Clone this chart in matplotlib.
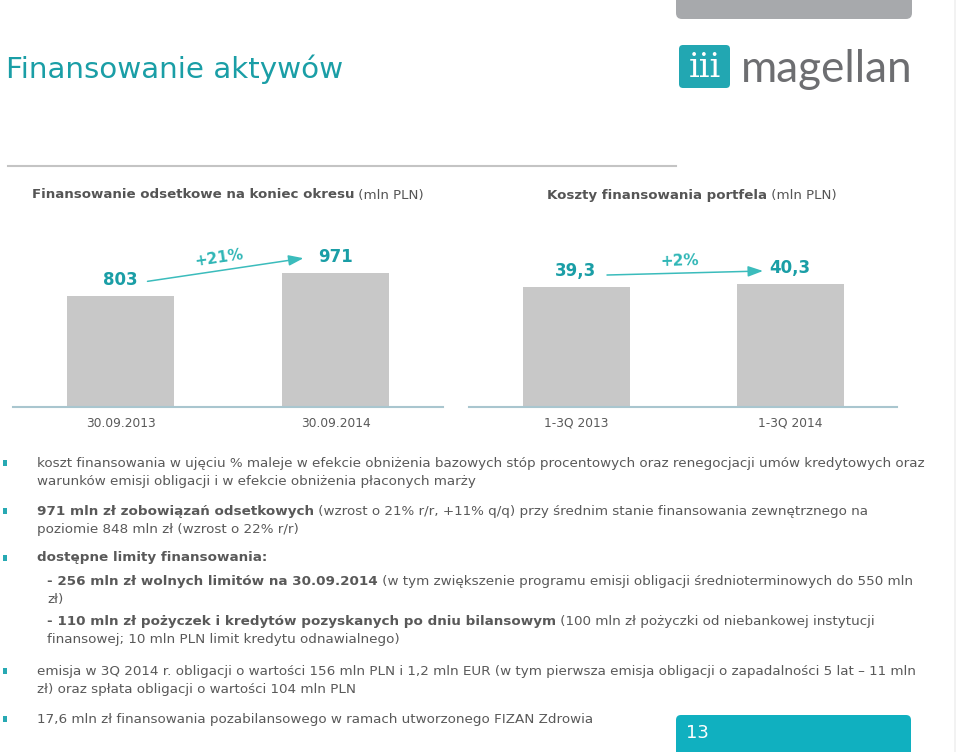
import matplotlib
matplotlib.use("Agg")
import matplotlib.pyplot as plt
from matplotlib.patches import FancyBboxPatch, Rectangle
from matplotlib.lines import Line2D
from matplotlib.transforms import IdentityTransform, offset_copy
import numpy as np

W, H = 960, 752
TEAL = "#1a9ea6"
ARROW = "#3bbcbc"
GREY_TXT = "#595959"
BAR = "#c8c8c8"
AXIS = "#a9c6cf"

# --- data -------------------------------------------------------------
title = "Finansowanie aktywów"
left_head = [("Finansowanie odsetkowe na koniec okresu", True), (" (mln PLN)", False)]
right_head = [("Koszty finansowania portfela", True), (" (mln PLN)", False)]

left_categories = ["30.09.2013", "30.09.2014"]
left_values = [803, 971]
left_labels = ["803", "971"]
left_change = "+21%"

right_categories = ["1-3Q 2013", "1-3Q 2014"]
right_values = [39.3, 40.3]
right_labels = ["39,3", "40,3"]
right_change = "+2%"

# each bullet: list of lines, each line: list of (text, bold)
bullet_1 = [
    [("koszt finansowania w ujęciu % maleje w efekcie obniżenia bazowych stóp procentowych oraz renegocjacji umów kredytowych oraz", False)],
    [("warunków emisji obligacji i w efekcie obniżenia płaconych marży", False)],
]
bullet_2 = [
    [("971 mln zł zobowiązań odsetkowych", True),
     (" (wzrost o 21% r/r, +11% q/q) przy średnim stanie finansowania zewnętrznego na", False)],
    [("poziomie 848 mln zł (wzrost o 22% r/r)", False)],
]
bullet_3 = [
    [("dostępne limity finansowania:", True)],
]
sub_1 = [
    [("- 256 mln zł wolnych limitów na 30.09.2014", True),
     (" (w tym zwiększenie programu emisji obligacji średnioterminowych do 550 mln", False)],
    [("zł)", False)],
]
sub_2 = [
    [("- 110 mln zł pożyczek i kredytów pozyskanych po dniu bilansowym", True),
     (" (100 mln zł pożyczki od niebankowej instytucji", False)],
    [("finansowej; 10 mln PLN limit kredytu odnawialnego)", False)],
]
bullet_4 = [
    [("emisja w 3Q 2014 r. obligacji o wartości 156 mln PLN i 1,2 mln EUR (w tym pierwsza emisja obligacji o zapadalności 5 lat – 11 mln", False)],
    [("zł) oraz spłata obligacji o wartości 104 mln PLN", False)],
]
bullet_5 = [
    [("17,6 mln zł finansowania pozabilansowego w ramach utworzonego FIZAN Zdrowia", False)],
]
page_number = "13"

fig = plt.figure(figsize=(W / 100, H / 100), dpi=100)
fig.patch.set_facecolor("white")
renderer = fig.canvas.get_renderer()


def fx(x):
    return x / W


def fy(y):
    return 1 - y / H


def rich_line(x, y, segments, size, color=GREY_TXT):
    # draw text pieces one after another on one line
    for text, bold in segments:
        t = fig.text(fx(x), fy(y), text, fontsize=size, color=color,
                     fontweight="bold" if bold else "normal", va="center", ha="left")
        x += t.get_window_extent(renderer).width


def px_patch(patch):
    patch.set_transform(IdentityTransform())
    fig.add_artist(patch)


# --- header -------------------------------------------------------------
px_patch(FancyBboxPatch((676, H - 19), 236, 30, boxstyle="round,pad=0,rounding_size=6",
                        fc="#a7a9ac", ec="none"))
fig.text(fx(6), fy(69), title, fontsize=21.2, color=TEAL, va="center", ha="left")

px_patch(FancyBboxPatch((679, H - 88), 51, 43, boxstyle="round,pad=0,rounding_size=4",
                        fc="#22a7b2", ec="none"))
fig.text(fx(704.5), fy(68), "iii", fontsize=24, color="white", family="DejaVu Serif",
         ha="center", va="center")
fig.text(fx(741), fy(70), "magellan", fontsize=31.7, color="#6d6e71", family="Lato",
         ha="left", va="center")

fig.add_artist(Line2D([fx(8), fx(676)], [fy(166), fy(166)], color="#c4c4c4", lw=1.5))
fig.add_artist(Line2D([fx(955), fx(955)], [0, 1], color="#f0f0f0", lw=1.2))

rich_line(32, 195, left_head, 9.65, color="#555555")
rich_line(547, 195, right_head, 9.65, color="#555555")


# --- bar charts -----------------------------------------------------------
def bar_panel(x0, width, px_per_unit, cats, vals, labels, change, start_off, end_off):
    base = 407
    hpx = 177
    ax = fig.add_axes([fx(x0), fy(base), width / W, hpx / H])
    ax.bar(range(len(vals)), vals, width=0.5, color=BAR)
    ax.set_xlim(-0.5, 1.5)
    ax.set_ylim(0, hpx / px_per_unit)
    for s in ["top", "left", "right"]:
        ax.spines[s].set_visible(False)
    ax.spines["bottom"].set_color(AXIS)
    ax.spines["bottom"].set_linewidth(1.5)
    ax.set_yticks([])
    ax.set_xticks(range(len(cats)))
    ax.set_xticklabels(cats, fontsize=8.8, color=GREY_TXT)
    ax.tick_params(axis="x", length=0, pad=7)
    ax.patch.set_alpha(0)

    for i, (v, lab) in enumerate(zip(vals, labels)):
        ax.annotate(lab, (i, v), xytext=(0, 16), textcoords="offset pixels",
                    ha="center", va="center", fontsize=12, fontweight="bold", color=TEAL)

    tr_a = offset_copy(ax.transData, fig=fig, x=start_off[0], y=start_off[1], units="dots")
    tr_b = offset_copy(ax.transData, fig=fig, x=end_off[0], y=end_off[1], units="dots")
    ax.annotate("", xy=(1, vals[1]), xycoords=tr_b, xytext=(0, vals[0]), textcoords=tr_a,
                arrowprops=dict(arrowstyle="-|>,head_length=0.9,head_width=0.32",
                                color=ARROW, lw=1.1, shrinkA=0, shrinkB=0))
    a = tr_a.transform((0, vals[0]))
    b = tr_b.transform((1, vals[1]))
    ang = np.degrees(np.arctan2(b[1] - a[1], b[0] - a[0]))
    mid = (a + b) / 2
    nx, ny = -np.sin(np.radians(ang)), np.cos(np.radians(ang))
    tx, ty = mid[0] + 12 * nx - 5, mid[1] + 12 * ny
    fig.text(tx / W, ty / H, change, fontsize=11, fontweight="bold", color="#2fb6b6",
             rotation=ang, ha="center", va="center", rotation_mode="anchor")
    return ax


bar_panel(13, 430, 0.1378, left_categories, left_values, left_labels, left_change,
          (27, 15), (-32, 15))
bar_panel(469, 428, 3.053, right_categories, right_values, right_labels, right_change,
          (31, 12), (-27, 13))

# --- bullet text -----------------------------------------------------------
BODY = 9.7
LINE = 18


def bullet_block(y, lines, x=37, marker=True):
    if marker:
        px_patch(Rectangle((3, H - y - 3), 4, 6, fc="#27a9b3", ec="none"))
    for k, segs in enumerate(lines):
        rich_line(x, y + k * LINE, segs, BODY)


bullet_block(463, bullet_1)
bullet_block(511, bullet_2)
bullet_block(558, bullet_3)
bullet_block(582, sub_1, x=47, marker=False)
bullet_block(622, sub_2, x=47, marker=False)
bullet_block(671, bullet_4)
bullet_block(719, bullet_5)

# --- page number box -------------------------------------------------------
px_patch(FancyBboxPatch((676, -10), 235, H - 715 + 10, boxstyle="round,pad=0,rounding_size=5",
                        fc="#10b0c0", ec="none"))
fig.text(fx(686), fy(733), page_number, fontsize=13, color="white", ha="left", va="center")

fig.savefig("out.png", dpi=100, facecolor="white")
